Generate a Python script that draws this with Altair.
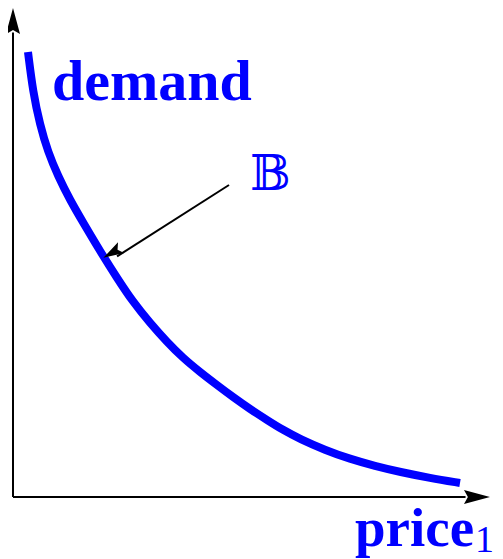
import altair as alt
import pandas as pd

# demand curve (price, demand)
price = [0.310, 0.413, 0.558, 0.723, 0.930, 1.178, 1.467, 1.798, 2.149, 2.479,
         2.831, 3.182, 3.512, 3.864, 4.215, 4.545, 4.897, 5.248, 5.579, 5.930,
         6.446, 6.963, 7.479, 7.996, 8.616, 9.236]
demand = [9.100, 8.282, 7.607, 7.055, 6.564, 6.074, 5.583, 5.031, 4.479, 3.988,
          3.558, 3.170, 2.843, 2.556, 2.290, 2.045, 1.800, 1.575, 1.370, 1.186,
          0.961, 0.777, 0.634, 0.511, 0.389, 0.286]

# annotation anchors (data units)
labels = ["demand", "price", "1", "\U0001D539"]
label_x = [0.806, 7.066, 9.545, 4.897]
label_y = [8.119, -1.002, -1.125, 6.278]

BLUE = "#0000ff"
XD = [-0.1033, 9.959]
YD = [-1.268, 10.0]

xs = alt.Scale(domain=XD, nice=False, zero=False)
ys = alt.Scale(domain=YD, nice=False, zero=False)

curve_df = pd.DataFrame({"price": price, "demand": demand})
curve = alt.Chart(curve_df).mark_line(
    color=BLUE, strokeWidth=8, strokeCap="butt", interpolate="basis", clip=False
).encode(
    x=alt.X("price:Q", scale=xs, axis=None),
    y=alt.Y("demand:Q", scale=ys, axis=None),
    order="price:Q",
)

# axes drawn as rules
axes_df = pd.DataFrame({
    "x": [0.0, 0.0], "x2": [0.0, 9.35],
    "y": [0.0, 0.0], "y2": [9.50, 0.0],
})
axes = alt.Chart(axes_df).mark_rule(color="black", strokeWidth=2).encode(
    x=alt.X("x:Q", scale=xs, axis=None), x2="x2:Q",
    y=alt.Y("y:Q", scale=ys, axis=None), y2="y2:Q",
)

ARROW = "M0,-1 L0.54,1 L0,0.7 L-0.54,1 Z"
heads_df = pd.DataFrame({"x": [0.0, 9.587], "y": [9.734, 0.0], "angle": [0, 90]})
heads = alt.Chart(heads_df).mark_point(
    shape=ARROW, filled=True, color="black", size=676, opacity=1, strokeWidth=0
).encode(
    x=alt.X("x:Q", scale=xs, axis=None),
    y=alt.Y("y:Q", scale=ys, axis=None),
    angle=alt.Angle("angle:Q", scale=None),
)

# pointer from the B label to the curve
ptr_df = pd.DataFrame({"x": [4.463], "y": [6.380], "x2": [2.15], "y2": [4.92]})
ptr = alt.Chart(ptr_df).mark_rule(color="black", strokeWidth=2).encode(
    x=alt.X("x:Q", scale=xs, axis=None), x2="x2:Q",
    y=alt.Y("y:Q", scale=ys, axis=None), y2="y2:Q",
)
ptr_head_df = pd.DataFrame({"x": [2.05], "y": [4.995], "angle": [240]})
ptr_head = alt.Chart(ptr_head_df).mark_point(
    shape="M0,-1 L0.6,1 L0,0.6 L-0.6,1 Z", filled=True, color="black", size=420,
    opacity=1, strokeWidth=0
).encode(
    x=alt.X("x:Q", scale=xs, axis=None),
    y=alt.Y("y:Q", scale=ys, axis=None),
    angle=alt.Angle("angle:Q", scale=None),
)

lab_df = pd.DataFrame({"t": labels, "x": label_x, "y": label_y})

def text_layer(idx, font, size, weight):
    d = lab_df.iloc[[idx]]
    return alt.Chart(d).mark_text(
        align="left", baseline="alphabetic", font=font, fontSize=size,
        fontWeight=weight, color=BLUE, clip=False
    ).encode(
        x=alt.X("x:Q", scale=xs, axis=None),
        y=alt.Y("y:Q", scale=ys, axis=None),
        text="t:N",
    )

t_demand = text_layer(0, "Liberation Serif", 58, "bold")
t_price = text_layer(1, "Liberation Serif", 55, "bold")
t_sub = text_layer(2, "Liberation Serif", 38, "normal")
t_b = text_layer(3, "DejaVu Serif", 48, "normal")

chart = alt.layer(axes, heads, curve, ptr, ptr_head, t_demand, t_price, t_sub, t_b).properties(
    width=487, height=551, padding=0, autosize="none"
).configure_view(stroke=None)

chart.save("out.html", embed_options={"renderer": "svg", "actions": False})
